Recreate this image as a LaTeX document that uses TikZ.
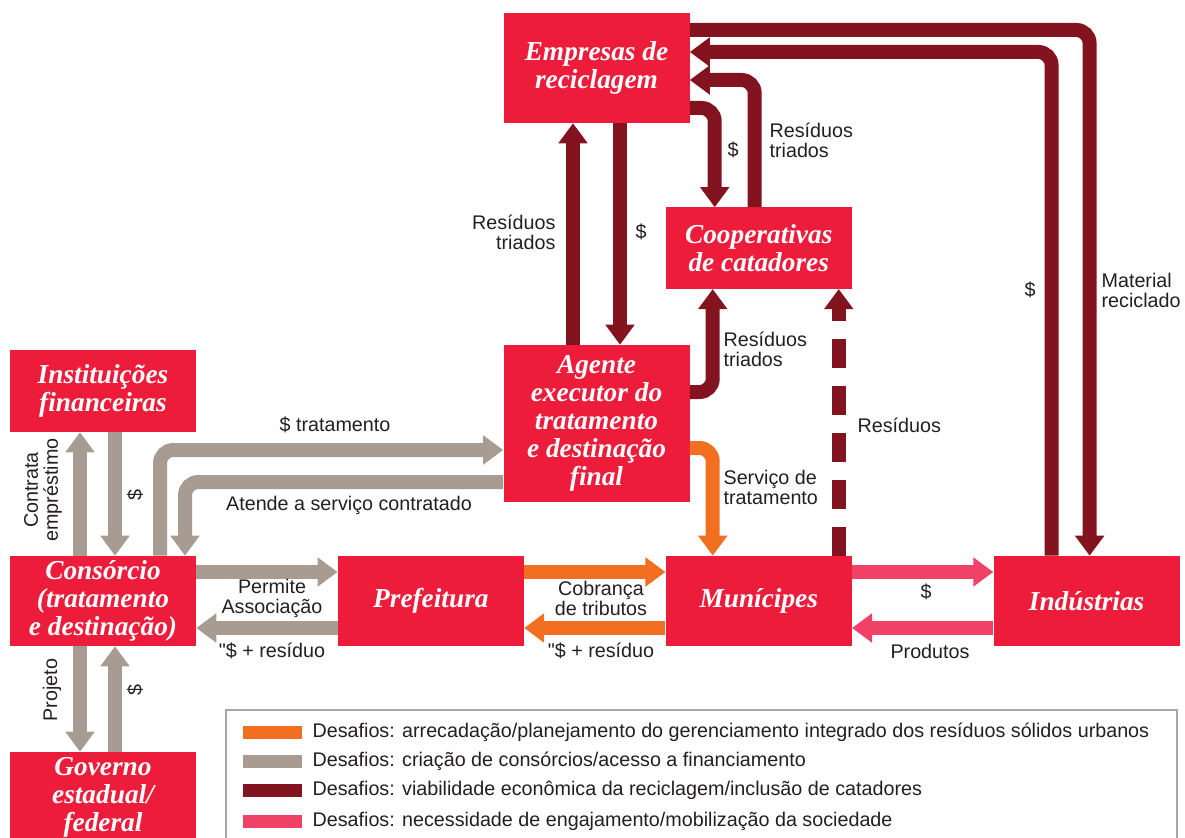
\documentclass[tikz,border=0pt]{standalone}
\usepackage{fontspec}
\setmainfont{Liberation Sans}
\newfontfamily\titlefont{Liberation Serif}
\newfontfamily\rawsans[Ligatures=TeXOff]{Liberation Sans}
\usetikzlibrary{positioning,arrows.meta,calc}

\definecolor{boxred}{HTML}{EC1C3A}
\definecolor{flowgray}{HTML}{A89B91}
\definecolor{flowdark}{HTML}{83131F}
\definecolor{floworange}{HTML}{F26F21}
\definecolor{flowpink}{HTML}{EF4266}
\definecolor{legendgray}{HTML}{A7A7A7}
\definecolor{labeltext}{HTML}{231F20}

\tikzset{
  actor/.style={fill=boxred, text=white, minimum width=139.5pt, minimum height=67.5pt,
    align=center, inner sep=2pt, font=\titlefont\bfseries\itshape\fontsize{20.5}{21}\selectfont},
  flow/.style={line width=10.5pt, -{Triangle[width=21pt,length=15pt]}, rounded corners=10pt},
  grayflow/.style={flow, draw=flowgray},
  orangeflow/.style={flow, draw=floworange},
  pinkflow/.style={flow, draw=flowpink},
  darkflow/.style={flow, draw=flowdark},
  lbl/.style={text=labeltext, font=\fontsize{14.8}{15}\selectfont, align=center, inner sep=1pt},
}
\newcommand{\qmark}{{\rawsans"}}

\begin{document}
\begin{tikzpicture}[x=0.75pt, y=-0.75pt]
\useasboundingbox (0,0) rectangle (1185,838);

% actors
\node[actor] (cons) at (103,601) {Consórcio\\(tratamento\\e destinação)};
\node[actor, right=106pt of cons] (pref) {Prefeitura};
\node[actor, right=106pt of pref] (mun) {Munícipes};
\node[actor, right=106pt of mun] (ind) {Indústrias};
\node[actor, minimum height=61.5pt] (inst) at (103,391) {Instituições\\financeiras};
\node[actor] (gov) at (103,797) {Governo\\estadual/\\federal};
\node[actor, minimum height=61pt, above=200pt of mun] (coop) {Cooperativas\\de catadores};
\node[actor, minimum height=117.75pt] (agent) at (596.5,423.5) {Agente\\executor do\\tratamento\\e destinação\\final};
\node[actor, minimum height=82.5pt] (emp) at (596.5,68) {Empresas de\\reciclagem};

% gray flows
\draw[grayflow] ($(cons.north)+(-23,0)$) -- ($(inst.south)+(-23,0)$);
\draw[grayflow] ($(inst.south)+(12,0)$) -- ($(cons.north)+(12,0)$);
\draw[grayflow] ($(cons.south)+(-23,0)$) -- ($(gov.north)+(-23,0)$);
\draw[grayflow] ($(gov.north)+(12,0)$) -- ($(cons.south)+(12,0)$);
\draw[grayflow] ($(cons.north)+(57,0)$) |- ($(agent.west)+(0,26.5)$);
\draw[grayflow] ($(agent.west)+(0,58.5)$) -| ($(cons.north)+(82,0)$);
\draw[grayflow] ($(cons.east)+(0,-29)$) -- ($(pref.west)+(0,-29)$);
\draw[grayflow] ($(pref.west)+(0,27)$) -- ($(cons.east)+(0,27)$);

% orange flows
\draw[orangeflow] ($(pref.east)+(0,-29)$) -- ($(mun.west)+(0,-29)$);
\draw[orangeflow] ($(mun.west)+(0,27)$) -- ($(pref.east)+(0,27)$);
\draw[orangeflow] ($(agent.east)+(0,24.5)$) -| ($(mun.north)+(-46,0)$);

% pink flows
\draw[pinkflow] ($(mun.east)+(0,-29)$) -- ($(ind.west)+(0,-29)$);
\draw[pinkflow] ($(ind.west)+(0,27)$) -- ($(mun.east)+(0,27)$);

% dark red flows
\draw[darkflow] ($(agent.north)+(-23.5,0)$) -- ($(emp.south)+(-23.5,0)$);
\draw[darkflow] ($(emp.south)+(23.5,0)$) -- ($(agent.north)+(23.5,0)$);
\draw[darkflow] ($(emp.east)+(0,40)$) -| ($(coop.north)+(-44,0)$);
\draw[darkflow] ($(coop.north)+(-4,0)$) |- ($(emp.east)+(0,12)$);
\draw[darkflow] ($(agent.east)+(0,-31.5)$) -| ($(coop.south)+(-46,0)$);
\coordinate (resfoot) at ($(mun.north)+(80,0)$);
\draw[darkflow, dash pattern=on 21.75pt off 13.5pt] (resfoot) -- (resfoot |- coop.south);
\draw[darkflow] ($(ind.north)+(-35,0)$) |- ($(emp.east)+(0,-16)$);
\draw[darkflow] ($(emp.east)+(0,-38)$) -| ($(ind.north)+(3,0)$);

% labels
\node[lbl] (trat) at (335,425) {\$ tratamento};
\node[lbl] (atende) at (349,505) {Atende a serviço contratado};
\node[lbl, rotate=90] (contrata) at (43,490) {Contrata\\empréstimo};
\node[lbl, rotate=90] (dinst) at (135,495) {\$};
\node[lbl, rotate=90] (projeto) at (52,690) {Projeto};
\node[lbl, rotate=90] (dgov) at (135,690) {\$};
\node[lbl] (permite) at (272,598) {Permite\\Associação};
\node[lbl] (pagcons) at (272,651) {\qmark\$ + resíduo};
\node[lbl] (cobranca) at (601,598) {Cobrança\\de tributos};
\node[lbl] (pagpref) at (601,651) {\qmark\$ + resíduo};
\node[lbl] (dind) at (926,592) {\$};
\node[lbl] (produtos) at (930,651) {Produtos};
\node[lbl, anchor=west, align=left] (servico) at (722,487) {Serviço de\\tratamento};
\node[lbl, anchor=west] (residuos) at (856,425) {Resíduos};
\node[lbl, anchor=west, align=left] (triadosag) at (722,349) {Resíduos\\triados};
\node[lbl, anchor=east, align=right] (triadosemp) at (557,232) {Resíduos\\triados};
\node[lbl] (dagent) at (641,232) {\$};
\node[lbl] (dcoop) at (733,150) {\$};
\node[lbl, anchor=west, align=left] (triadoscoop) at (768,140) {Resíduos\\triados};
\node[lbl] (demp) at (1030,290) {\$};
\node[lbl, anchor=west, align=left] (material) at (1100,290) {Material\\reciclado};

% legend
\draw[legendgray, line width=1.5pt] (226,710) rectangle (1177,870);
\foreach \col/\ypos/\txt [count=\i] in {
  floworange/732/{Desafios: arrecadação/planejamento do gerenciamento integrado dos resíduos sólidos urbanos},
  flowgray/761/{Desafios: criação de consórcios/acesso a financiamento},
  flowdark/790/{Desafios: viabilidade econômica da reciclagem/inclusão de catadores},
  flowpink/821/{Desafios: necessidade de engajamento/mobilização da sociedade}}
{
  \fill[\col] (243,\ypos-6.5) rectangle (302,\ypos+6.5);
  \node[lbl, anchor=west] (leg\i) at (311,\ypos) {\txt};
}
\end{tikzpicture}
\end{document}
